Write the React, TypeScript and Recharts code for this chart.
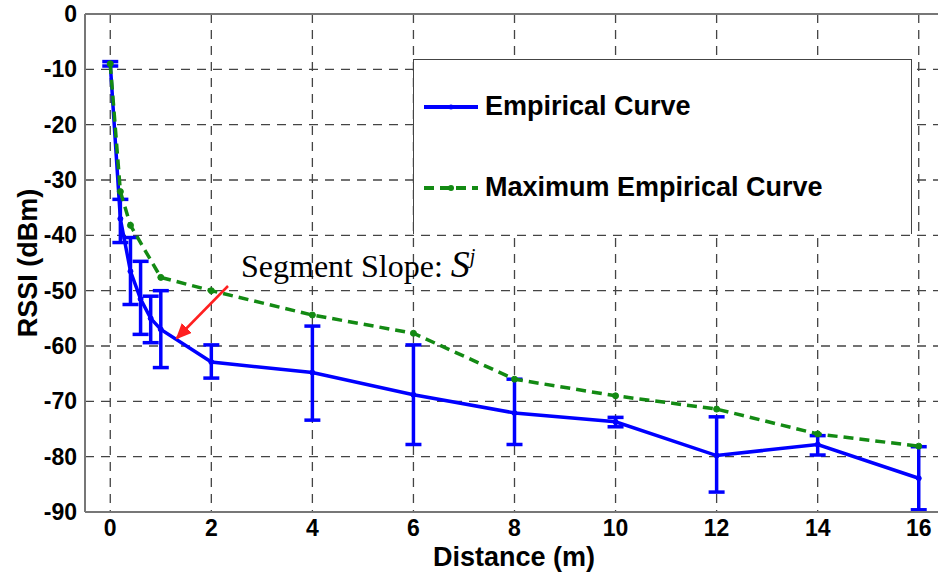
import React from 'react';
import { LineChart, Line, XAxis, YAxis, CartesianGrid, ErrorBar, ReferenceLine } from 'recharts';

// distance in metres, RSSI in dBm
const distance = [0, 0.2, 0.4, 0.6, 0.8, 1, 2, 4, 6, 8, 10, 12, 14, 16];
const empirical = [-9, -37, -46.5, -51.5, -55, -57, -62.9, -64.8, -68.8, -72.1, -73.7, -79.8, -77.8, -83.9];
const empiricalLow = [-9.4, -41.3, -52.5, -57.9, -59.4, -63.9, -65.8, -73.4, -77.8, -77.8, -74.6, -86.4, -79.7, -89.6];
const empiricalHigh = [-8.6, -33.5, -40.4, -44.7, -51, -50, -59.8, -56.4, -59.8, -66, -72.9, -72.8, -76.2, -78.2];
const maxEmpirical = [-9, -32.1, -38.2, null, null, -47.6, -50, -54.4, -57.7, -66, -69, -71.4, -75.9, -78.1];

const xTicks = [0, 2, 4, 6, 8, 10, 12, 14, 16];
const yTicks = [0, -10, -20, -30, -40, -50, -60, -70, -80, -90];

const BLUE = '#0000ff';
const GREEN = '#138a13';
const SANS = '"Liberation Sans", Arial, sans-serif';

const data = distance.map((d, i) => ({
  d,
  emp: empirical[i],
  empErr: [empirical[i] - empiricalLow[i], empiricalHigh[i] - empirical[i]],
  max: maxEmpirical[i],
}));

const tickStyle = { fill: '#000', fontSize: 23, fontWeight: 700, fontFamily: SANS };
const labelStyle = { fill: '#000', fontSize: 27, fontWeight: 700, fontFamily: SANS };

const LegendBox = () => (
  <div
    style={{
      position: 'absolute',
      left: 413,
      top: 59,
      width: 499,
      height: 175,
      boxSizing: 'border-box',
      border: '1.5px solid #444',
      borderBottom: 'none',
      background: '#fff',
      fontFamily: SANS,
      fontWeight: 700,
      fontSize: 27,
      color: '#000',
    }}
  >
    <div style={{ position: 'absolute', left: 9, top: 31, display: 'flex', alignItems: 'center' }}>
      <svg width={56} height={16}>
        <line x1={1} y1={8} x2={55} y2={8} stroke={BLUE} strokeWidth={4} />
        <circle cx={28} cy={8} r={2.5} fill={BLUE} />
      </svg>
      <span style={{ marginLeft: 6 }}>Empirical Curve</span>
    </div>
    <div style={{ position: 'absolute', left: 9, top: 112, display: 'flex', alignItems: 'center' }}>
      <svg width={56} height={16}>
        <line x1={1} y1={8} x2={55} y2={8} stroke={GREEN} strokeWidth={4} strokeDasharray="10 6" />
        <circle cx={28} cy={8} r={3} fill={GREEN} />
      </svg>
      <span style={{ marginLeft: 6 }}>Maximum Empirical Curve</span>
    </div>
  </div>
);

export default function App() {
  return (
    <div style={{ position: 'absolute', left: 0, top: 0, width: 938, height: 575, overflow: 'hidden', background: '#fff' }}>
      <LineChart width={990} height={575} data={data} margin={{ top: 14, right: 46, left: 0, bottom: 0 }}>
        <CartesianGrid stroke="#444" strokeWidth={1.3} strokeDasharray="9 7" />
        <XAxis
          dataKey="d"
          type="number"
          domain={[-0.5, 16.5]}
          ticks={xTicks}
          height={63}
          axisLine={{ stroke: '#777', strokeWidth: 2 }}
          tickLine={false}
          tick={tickStyle}
          label={{
            content: () => (
              <text x={514} y={566} textAnchor="middle" style={labelStyle}>
                Distance (m)
              </text>
            ),
          }}
        />
        <YAxis
          type="number"
          domain={[-90, 0]}
          ticks={yTicks}
          width={85}
          axisLine={{ stroke: '#777', strokeWidth: 2 }}
          tickLine={false}
          tick={tickStyle}
          label={{
            content: () => (
              <text x={37} y={263} transform="rotate(-90, 37, 263)" textAnchor="middle" style={labelStyle}>
                RSSI (dBm)
              </text>
            ),
          }}
        />
        <ReferenceLine y={0} stroke="#777" strokeWidth={2} />
        <Line
          dataKey="emp"
          name="Empirical Curve"
          stroke={BLUE}
          strokeWidth={3.5}
          dot={{ r: 2.5, fill: BLUE, stroke: BLUE, strokeWidth: 1 }}
          isAnimationActive={false}
        >
          <ErrorBar dataKey="empErr" direction="y" width={8} stroke={BLUE} strokeWidth={3.5} />
        </Line>
        <Line
          dataKey="max"
          name="Maximum Empirical Curve"
          stroke={GREEN}
          strokeWidth={3.5}
          strokeDasharray="10 6"
          connectNulls
          dot={{ r: 3, fill: GREEN, stroke: GREEN, strokeWidth: 1, strokeDasharray: '' }}
          isAnimationActive={false}
        />
      </LineChart>
      <LegendBox />
      <svg width={938} height={575} style={{ position: 'absolute', left: 0, top: 0, pointerEvents: 'none' }}>
        <defs>
          <marker id="head" markerWidth="16" markerHeight="14" refX="14" refY="7" orient="auto" markerUnits="userSpaceOnUse" viewBox="0 0 16 14">
            <path d="M0,0 L16,7 L0,14 z" fill="#ff2020" />
          </marker>
        </defs>
        <text x={241} y={277} style={{ fontFamily: '"Liberation Serif", "Times New Roman", serif', fontSize: 32, fill: '#000' }}>
          Segment Slope:{' '}
          <tspan fontStyle="italic" fontSize={38}>S</tspan>
          <tspan fontStyle="italic" fontSize={20} dy={-14}>j</tspan>
        </text>
        <line x1={228} y1={286} x2={177} y2={338} stroke="#ff2020" strokeWidth={2.5} markerEnd="url(#head)" />
      </svg>
    </div>
  );
}
